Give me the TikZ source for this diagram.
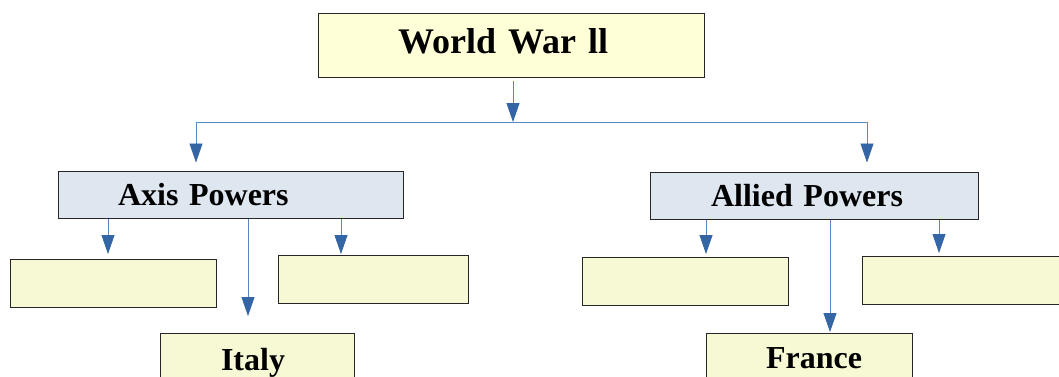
\documentclass[tikz,border=0pt]{standalone}
\usepackage{fontspec}
\setmainfont{Liberation Serif}
\usepackage[usenames,dvipsnames]{xcolor}
\usepackage{tikz}
\usetikzlibrary {arrows.meta,
                 calc,
                 positioning}
\definecolor{ivory}{HTML}{FFFFD7}
\definecolor{steel}{HTML}{DEE6EF}
\definecolor{pale}{HTML}{F6F9D4}
\definecolor{lineblue}{HTML}{5A86C3}
\definecolor{headblue}{HTML}{3465A4}
\tikzset{
        box/.style={draw=black!85, line width=1pt, minimum height=48pt,
                    inner sep=0pt},
        bigfont/.style={font=\fontsize{36}{40}\selectfont\bfseries},
        midfont/.style={font=\fontsize{32}{36}\selectfont\bfseries},
        title/.style={box, bigfont, fill=ivory, minimum width=386pt,
                      minimum height=64pt, align=left, inner xsep=80pt,
                      text width=226pt, text height=26pt, text depth=10pt},
        group/.style={box, midfont, fill=steel, align=left, inner xsep=60pt,
                      minimum height=47pt},
        leaf/.style={box, midfont, fill=pale, minimum width=206pt},
        link/.style={draw=lineblue, line width=0.8pt},
        myarrow/.style={link, -{Triangle[length=19pt, width=13pt, color=headblue]}},
 }

\begin{document}
\begin{tikzpicture}[x=1pt, y=-1pt]
    \useasboundingbox (0,0) rectangle (1059,376);

    \node[title] (war) at (511,45) {World War ll};

    \node[group, text width=225pt] (axis) at (230.5,194.5) {Axis Powers};
    \node[group, text width=206pt, inner xsep=61pt] (allied) at (814,195.5) {Allied Powers};

    \node[leaf] (ax1) at (113,283.5) {};
    \node[leaf, minimum width=190pt] (ax2) at (373,279) {};
    \node[leaf, minimum width=194pt, minimum height=60pt, align=left,
          inner xsep=61pt, text width=72pt] (italy) at (257,363) {Italy};

    \node[leaf] (al1) at (685,281) {};
    \node[leaf] (al2) at (965,280) {};
    \node[leaf, minimum height=50pt, align=right, inner xsep=50pt,
          text width=106pt] (france) at (809,358) {France};

    \coordinate (bar) at (513,122);
    \coordinate (barL) at (196,122);
    \coordinate (barR) at (867,122);

    \coordinate (a1) at (108,254);
    \coordinate (a2) at (248,316);
    \coordinate (a3) at (341,254);
    \coordinate (b1) at (706,254);
    \coordinate (b2) at (830,332);
    \coordinate (b3) at (939,253);

    \draw[myarrow, shorten <=3pt] (war.south -| bar) -- (bar);
    \draw[link] (barL) -- (barR);
    \draw[myarrow, shorten >=8pt] (barL) -- (axis.north -| barL);
    \draw[myarrow, shorten >=9pt] (barR) -- (allied.north -| barR);

    \draw[myarrow] (axis.south -| a1) -- (a1);
    \draw[myarrow] (axis.south -| a2) -- (a2);
    \draw[myarrow] (axis.south -| a3) -- (a3);

    \draw[myarrow] (allied.south -| b1) -- (b1);
    \draw[myarrow] (allied.south -| b2) -- (b2);
    \draw[myarrow] (allied.south -| b3) -- (b3);
\end{tikzpicture}
\end{document}
